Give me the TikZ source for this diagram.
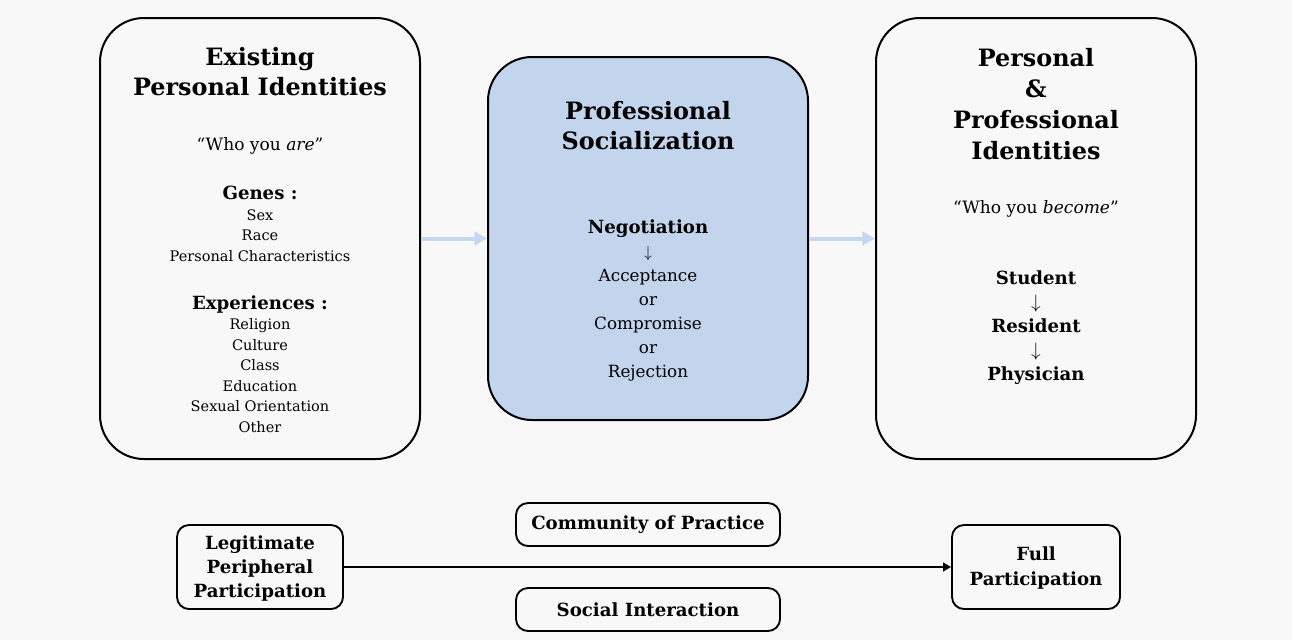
\documentclass[tikz,border=0pt]{standalone}
\usepackage{fontspec}
\setmainfont{DejaVu Serif}
\usetikzlibrary{arrows.meta}
\definecolor{bgc}{HTML}{F8F8F8}
\definecolor{midfill}{HTML}{C3D5EC}
\definecolor{arrowblue}{HTML}{C5D8F0}
\tikzset{
  bigbox/.style={draw=black, line width=1.5pt, rounded corners=33pt, fill=bgc, inner sep=0pt},
  smallbox/.style={draw=black, line width=1.4pt, rounded corners=9pt, fill=bgc, inner sep=0pt},
  txt/.style={align=center, inner sep=0pt, text=black},
  titlef/.style={font=\fontsize{17.9}{22.5}\selectfont\bfseries},
  bodyf/.style={font=\fontsize{10.9}{15.4}\selectfont},
  quotef/.style={font=\fontsize{12.8}{15}\selectfont},
  bottomf/.style={font=\fontsize{13.6}{18}\selectfont\bfseries},
  bluearrow/.style={draw=arrowblue, line width=3pt, -{Triangle[length=9.5pt,width=10pt]}},
  blackarrow/.style={draw=black, line width=1.5pt, -{Triangle[length=6pt,width=6.5pt]}},
}
\begin{document}
\begin{tikzpicture}[x=0.75pt,y=-0.75pt]
\fill[bgc] (0,0) rectangle (1292,640);
\useasboundingbox (0,0) rectangle (1292,640);

% big boxes
\node[bigbox, minimum width=240pt, minimum height=330.75pt] (left) at (260,238.5) {};
\node[bigbox, fill=midfill, minimum width=240pt, minimum height=272.25pt] (mid) at (648,238.5) {};
\node[bigbox, minimum width=240pt, minimum height=330.75pt] (right) at (1036,238.5) {};

\draw[bluearrow] (left.east) -- (mid.west);
\draw[bluearrow] (mid.east) -- (right.west);

% left texts
\node[txt, titlef] (lt) at (260,72) {Existing\\Personal Identities};
\node[txt, quotef] (lq) at (260,146) {“Who you \textit{are}”};
\node[txt, bodyf] (lg) at (260,224) {{\fontsize{13.6}{15.4}\selectfont\bfseries Genes :}\\Sex\\Race\\Personal Characteristics};
\node[txt, bodyf] (le) at (260,364) {{\fontsize{13.6}{15.4}\selectfont\bfseries Experiences :}\\Religion\\Culture\\Class\\Education\\Sexual Orientation\\Other};

% middle texts
\node[txt, titlef] (mt) at (648,125.5) {Professional\\Socialization};
\node[txt, font=\fontsize{12.6}{17.9}\selectfont] (mn) at (648,300.5) {{\fontsize{13.6}{17.9}\selectfont\bfseries Negotiation}\\$\downarrow$\\Acceptance\\or\\Compromise\\or\\Rejection};

% right texts
\node[txt, font=\fontsize{17.9}{23.25}\selectfont\bfseries] (rt) at (1036,104.5) {Personal\\\&\\Professional\\Identities};
\node[txt, quotef] (rq) at (1036,209) {“Who you \textit{become}”};
\node[txt, bottomf] (rs) at (1036,328) {Student\\{\mdseries$\downarrow$}\\Resident\\{\mdseries$\downarrow$}\\Physician};

% bottom
\node[smallbox, minimum width=124.5pt, minimum height=63pt] (lpp) at (260,567) {};
\node[txt, bottomf] (lppt) at (260,568) {Legitimate\\Peripheral\\Participation};
\node[smallbox, minimum width=198pt, minimum height=32.25pt] (cop) at (648,524.5) {};
\node[txt, bottomf] (copt) at (648,524.5) {Community of Practice};
\node[smallbox, minimum width=198pt, minimum height=32.25pt] (si) at (648,609.5) {};
\node[txt, bottomf] (sit) at (648,609.5) {Social Interaction};
\node[smallbox, minimum width=126pt, minimum height=63pt] (fp) at (1036,567) {};
\node[txt, font=\fontsize{13.6}{18.75}\selectfont\bfseries] (fpt) at (1036,567.5) {Full\\Participation};

\draw[blackarrow] (lpp.east) -- (fp.west);
\end{tikzpicture}
\end{document}
